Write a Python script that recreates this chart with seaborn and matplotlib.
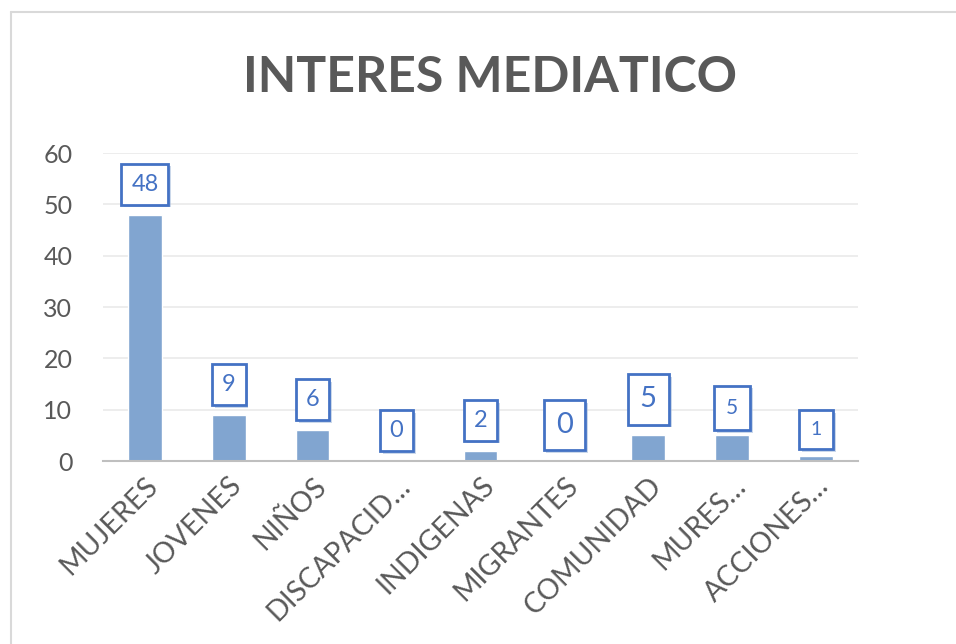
import numpy as np
import pandas as pd
import matplotlib
matplotlib.use('Agg')
import matplotlib.pyplot as plt
import matplotlib.patheffects as pe
from matplotlib.lines import Line2D
import seaborn as sns

# Datos del gráfico
categorias = ['MUJERES', 'JOVENES', 'NIÑOS', 'DISCAPACID…', 'INDIGENAS',
              'MIGRANTES', 'COMUNIDAD', 'MURES…', 'ACCIONES…']
valores = [48, 9, 6, 0, 2, 0, 5, 5, 1]
# tamaño de letra de cada etiqueta (no son todas iguales en el original)
tam_etiqueta = [17, 17, 17, 17, 17, 21, 21, 15, 14]

sns.set_style('white')
plt.rcParams['font.family'] = ['Lato', 'DejaVu Sans']

gris = '#595959'
azul_borde = '#4472C4'
azul_barra = '#81A5D0'

df = pd.DataFrame({'categoria': categorias, 'valor': valores})

fig = plt.figure(figsize=(9.56, 6.44), dpi=100)
ax = fig.add_axes([0.1077, 0.284, 0.7898, 0.4783])

sns.barplot(data=df, x='categoria', y='valor', color=azul_barra,
            width=0.4, saturation=1, ax=ax, zorder=2)

ax.set_ylim(0, 60)
ax.set_xlim(-0.5, len(categorias) - 0.5)
ax.set_yticks(range(0, 61, 10))
ax.yaxis.grid(True, color='#EAEAEA', linewidth=1.2, zorder=0)
ax.set_axisbelow(True)
ax.set_xlabel('')
ax.set_ylabel('')

for s in ['top', 'right', 'left']:
    ax.spines[s].set_visible(False)
ax.spines['bottom'].set_color('#BFBFBF')
ax.spines['bottom'].set_linewidth(1.5)

# marcas entre categorías
ax.set_xticks(np.arange(-0.5, len(categorias), 1), minor=True)
ax.tick_params(axis='x', which='minor', length=8, width=1.5, color='#BFBFBF', direction='out')
ax.tick_params(axis='x', which='major', length=0, pad=8)
ax.tick_params(axis='y', length=0, pad=22, labelsize=18, labelcolor=gris)

ax.set_xticks(range(len(categorias)))
ax.set_xticklabels(categorias, rotation=45, ha='right', va='top', rotation_mode='anchor',
                   fontsize=20.5, color=gris)

# etiquetas de datos con recuadro (altura de recuadro parecida en todas)
for i, v in enumerate(valores):
    f = tam_etiqueta[i]
    pad = 0.42 if f >= 17 else 0.58
    t = ax.annotate(str(v), xy=(i, v), xytext=(0, 5 + f), textcoords='offset points',
                    ha='center', va='center', fontsize=f, color=azul_borde,
                    bbox=dict(boxstyle='square,pad=%.2f' % pad, fc='white', ec=azul_borde, lw=2),
                    zorder=5)
    t.get_bbox_patch().set_path_effects([
        pe.SimplePatchShadow(offset=(2, -2), shadow_rgbFace='#A9BEDD', alpha=0.6),
        pe.Normal()])

fig.text(0.5126, 0.857, 'INTERES MEDIATICO', ha='center', va='baseline',
         fontsize=36, fontweight='bold', color=gris)

# borde del área del gráfico
fig.add_artist(Line2D([0.011, 1.0], [0.982, 0.982], color='#D9D9D9', lw=1.5))
fig.add_artist(Line2D([0.011, 0.011], [0.0, 0.982], color='#D9D9D9', lw=1.5))

fig.savefig('out.png', dpi=100)
